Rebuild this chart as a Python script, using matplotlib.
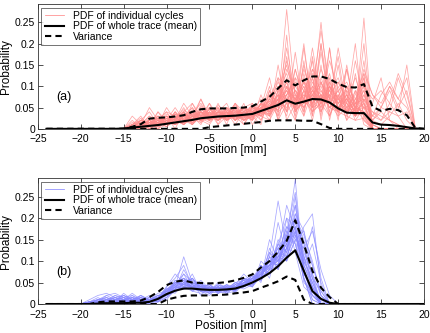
import numpy as np
import matplotlib
matplotlib.use("Agg")
import matplotlib.pyplot as plt
from matplotlib.ticker import FuncFormatter

plt.rcParams['font.family'] = ['Liberation Sans', 'DejaVu Sans']

# grid of positions [mm]
pos = np.arange(-24, 21)

# ---- panel (a) ----
mean_a = [0, 0, 0, 0, 0, 0, 0, 0, 0,
          .001, .003, .005, .007, .009, .012, .015, .018, .021, .025,
          .027, .029, .030, .031, .033, .035, .042, .049, .056, .067,
          .059, .064, .070, .069, .062, .048, .038, .037, .037, .015,
          .010, .009, .007, .004, .001, 0]
upper_a = [0, 0, 0, 0, 0, 0, 0, 0, 0,
           0, .005, .011, .024, .026, .027, .029, .032, .040, .046,
           .048, .048, .048, .049, .050, .053, .064, .075, .095, .114,
           .102, .114, .123, .123, .117, .106, .098, .097, .105, .052,
           .042, .047, .044, .032, .002, 0]
lower_a = [0, 0, 0, 0, 0, 0, 0, 0, 0,
           0, 0, 0, 0, 0, 0, 0, 0, 0, 0,
           .004, .006, .008, .010, .012, .014, .016, .019, .020, .020,
           .020, .019, .019, .011, .002, 0, 0, 0, 0, 0,
           0, 0, 0, 0, 0, 0]

# individual cycles, positions -15..19, values in 1e-3
start_a = -15
cycles_a = [
    [0,10,25,5,30,15,40,20,35,60, 25,40,30,45,20,40,70,35,90,150, 60,110,50,180,70,40,90,30,60,0, 0,0,0,0,0],
    [0,0,5,15,10,25,20,15,30,20, 35,25,50,30,40,55,45,80,60,120, 40,70,130,90,60,30,50,80,130,80, 60,100,50,90,0],
    [0,5,0,10,20,10,25,35,15,40, 30,20,35,55,30,25,40,60,110,70, 90,50,80,60,100,70,40,50,20,0, 0,0,0,0,0],
    [0,0,0,5,15,30,10,20,45,30, 20,40,25,30,50,35,60,40,70,90, 50,150,70,40,90,120,60,30,80,20, 10,30,60,20,0],
    [0,15,5,20,10,15,30,25,10,30, 45,30,20,40,25,60,30,55,45,80, 110,60,90,230,100,50,70,40,110,0, 0,0,0,0,0],
    [0,0,10,0,15,5,20,10,30,25, 15,35,20,30,40,30,45,70,120,95, 70,50,110,70,160,90,110,60,70,30, 50,40,120,60,0],
    [0,5,20,10,0,20,15,35,25,15, 40,20,45,35,30,50,40,35,60,280, 70,100,60,80,50,40,30,20,25,0, 0,0,0,0,0],
    [0,0,0,15,25,10,35,20,15,40, 20,30,40,20,35,25,50,65,40,60, 80,40,140,110,60,190,80,50,90,10, 0,0,0,0,0],
    [0,10,15,0,10,25,10,20,40,15, 30,45,25,35,20,40,55,30,80,70, 45,90,55,200,70,60,100,40,50,60, 120,20,10,0,0],
    [0,0,5,20,5,15,30,10,25,35, 50,25,35,20,40,30,35,90,50,100, 60,200,40,80,60,40,70,120,60,0, 0,0,0,0,0],
    [0,5,0,10,30,20,15,30,20,50, 30,20,40,30,25,45,30,45,70,190, 80,60,90,70,110,50,80,30,260,0, 0,0,0,0,0],
    [0,0,15,5,20,10,25,45,30,20, 35,50,30,45,35,20,60,50,100,60, 140,70,50,110,70,170,40,60,30,0, 0,0,0,0,0],
    [0,10,5,25,15,35,20,15,35,25, 20,30,45,25,50,40,30,60,45,70, 50,90,140,60,80,40,100,70,50,40, 30,20,10,0,0],
    [0,0,10,15,0,10,35,20,40,30, 25,40,20,50,30,35,50,40,90,130, 60,80,70,250,60,90,40,70,100,70, 90,60,30,40,0],
    [0,5,10,5,25,15,10,30,20,45, 35,20,35,40,45,30,40,65,50,90, 70,110,60,90,50,70,60,30,40,20, 50,90,40,150,0],
    [0,0,0,10,20,30,20,10,30,40, 25,35,50,30,20,50,45,30,70,110, 45,60,190,70,100,60,80,50,130,0, 0,0,0,0,0],
    [0,10,20,10,15,5,25,40,20,30, 45,30,25,35,50,25,60,40,60,80, 100,70,40,60,90,50,40,60,30,10, 0,0,0,0,0],
    [0,0,5,15,10,20,15,25,50,20, 30,55,40,25,30,55,40,70,55,140, 90,70,120,60,80,110,70,40,200,0, 0,0,0,0,0],
    [0,5,15,20,10,30,25,15,25,35, 20,40,30,40,35,45,35,50,80,60, 60,140,80,100,50,70,40,90,50,0, 0,0,0,0,0],
    [0,0,10,5,15,25,10,35,15,25, 40,30,45,20,45,30,50,45,60,100, 70,50,80,110,60,40,60,30,70,40, 20,60,130,80,0],
    [0,10,0,15,25,15,35,20,30,40, 35,25,30,50,25,40,45,80,65,90, 50,80,60,120,70,80,50,60,90,0, 0,0,0,0,0],
    [0,0,20,10,5,20,30,25,35,20, 50,35,25,30,40,50,35,55,70,80, 120,90,70,140,90,60,70,40,60,30, 80,110,70,50,0],
    [0,5,5,10,20,10,20,30,40,30, 25,40,35,45,30,35,60,50,100,70, 60,110,90,50,100,70,140,50,40,0, 0,0,0,0,0],
    [0,0,10,20,15,25,15,30,20,55, 30,45,20,35,50,40,30,75,55,160, 80,60,100,80,60,90,40,70,120,0, 0,0,0,0,0],
    [0,0,20,40,10,50,20,60,30,70, 20,50,10,60,30,20,80,30,150,40, 120,30,170,40,100,20,140,40,160,0, 0,0,0,0,0],
    [0,30,10,50,20,10,40,10,60,20, 40,10,50,20,60,10,40,100,20,60, 20,160,30,200,30,80,20,130,30,0, 0,0,0,0,0],
    [0,0,0,20,0,30,0,40,10,30, 60,10,30,50,10,40,20,60,30,220, 20,90,20,110,40,150,30,90,10,0, 0,0,0,0,0],
    [0,10,30,0,40,10,20,50,10,40, 20,60,20,30,10,50,30,20,90,40, 180,40,120,30,190,50,70,20,50,20, 40,20,0,0,0],
    [0,0,10,30,10,20,50,20,30,10, 50,20,40,10,40,20,60,40,120,20, 60,100,30,150,20,110,60,200,20,0, 0,0,0,0,0],
    [0,20,0,10,40,20,10,30,50,20, 10,40,30,60,20,30,10,90,20,100, 40,70,160,20,120,40,80,30,70,0, 0,0,0,0,0],
    [0,0,0,0,10,20,10,30,20,40, 30,50,20,40,30,50,40,30,60,50, 90,60,80,50,110,70,90,60,140,80, 50,100,70,120,0],
    [0,10,20,10,30,10,40,20,10,50, 20,40,60,20,30,40,50,120,30,80, 30,130,50,60,190,30,150,40,120,0, 0,0,0,0,0],
    [0,0,10,20,30,10,20,40,20,70, 30,20,40,30,50,20,40,50,80,40, 70,30,90,60,30,80,20,50,40,10, 0,0,0,0,0],
    [0,5,10,30,20,40,30,10,40,20, 60,30,40,20,50,60,20,70,40,170, 50,120,40,60,130,40,100,50,80,30, 20,40,30,0,0],
    [0,0,20,10,20,40,10,30,20,40, 20,30,50,40,20,30,60,40,70,30, 140,60,100,40,80,60,40,160,60,0, 0,0,0,0,0],
    [0,10,0,20,10,30,20,40,60,30, 40,20,30,60,40,30,50,20,60,110, 40,190,50,80,30,100,50,30,100,0, 0,0,0,0,0],
]

# ---- panel (b) ----
mean_b = [0, 0, 0, 0, 0, 0,
          .001, .002, .002, .002, .003, .003, .005, .012, .023, .031,
          .036, .036, .034, .033, .033, .034, .036, .042, .050, .060,
          .072, .088, .108, .125, .077, .030, .012, .003, 0, 0,
          0, 0, 0, 0, 0, 0, 0, 0, 0]
upper_b = [0, 0, 0, 0, 0, 0,
           .004, .006, .006, .006, .006, .008, .016, .028, .044, .052,
           .055, .050, .049, .048, .049, .051, .055, .061, .069, .085,
           .100, .122, .147, .195, .139, .077, .038, .016, 0, 0,
           0, 0, 0, 0, 0, 0, 0, 0, 0]
lower_b = [0, 0, 0, 0, 0, 0,
           0, 0, 0, 0, 0, 0, 0, 0, .010, .015,
           .019, .020, .020, .020, .021, .022, .025, .027, .030, .038,
           .045, .053, .064, .056, .010, 0, 0, 0, 0, 0,
           0, 0, 0, 0, 0, 0, 0, 0, 0]

# individual cycles, positions -20..10, values in 1e-3
start_b = -20
cycles_b = [
    [0,5,10,15,10,5,10,5,0,5, 15,30,50,40,35,30,25,30,40,45, 60,70,90,110,140,180,80,20,0,0, 0],
    [0,0,5,20,25,15,10,20,5,10, 30,45,60,35,30,40,30,35,35,50, 55,80,100,90,160,230,110,40,10,0, 0],
    [0,0,0,5,10,5,15,10,5,15, 25,50,40,30,25,35,40,30,45,40, 50,60,80,120,100,150,60,0,0,0, 0],
    [0,5,0,10,5,15,5,0,10,20, 20,40,110,50,40,30,35,40,30,45, 40,70,120,80,130,200,130,60,0,0, 0],
    [0,0,10,5,15,10,5,10,15,5, 35,30,45,60,40,35,30,25,40,60, 50,90,70,110,180,160,90,140,50,0, 0],
    [0,0,0,0,5,10,0,5,10,15, 10,35,55,40,50,30,45,35,50,55, 70,60,110,240,130,120,40,20,0,0, 0],
    [0,0,5,10,0,5,20,10,5,10, 25,40,35,60,30,40,25,45,35,40, 60,80,90,100,150,290,70,30,0,0, 0],
    [0,5,10,5,10,0,10,15,5,15, 20,55,40,45,35,25,40,30,40,55, 45,70,100,130,110,170,100,180,60,0, 0],
    [0,0,0,5,10,20,10,5,10,5, 30,25,50,35,40,45,30,40,35,50, 65,55,80,90,160,140,60,20,5,0, 0],
    [0,0,5,15,5,10,15,5,10,20, 15,45,70,50,45,30,40,30,45,40, 50,75,90,140,120,200,90,40,0,0, 0],
    [0,5,0,10,15,5,5,10,0,10, 25,35,45,40,55,35,30,40,30,60, 55,65,120,100,140,190,120,70,20,0, 0],
    [0,0,10,5,10,15,5,10,5,15, 20,30,40,50,35,25,30,35,40,35, 45,60,80,110,100,150,170,60,0,0, 0],
    [0,0,5,0,5,10,15,5,10,10, 35,50,60,30,40,35,45,30,35,45, 60,90,70,120,230,170,80,10,0,0, 0],
    [0,5,10,20,10,5,10,5,15,5, 25,40,35,45,30,40,35,45,30,50, 40,65,100,90,130,180,50,30,0,0, 0],
    [0,0,0,5,15,10,5,15,5,20, 30,45,55,35,30,25,40,35,50,45, 55,70,90,130,150,210,140,90,20,0, 0],
    [0,0,5,10,5,20,10,5,10,10, 20,35,80,45,35,45,30,40,35,40, 50,60,110,80,170,140,60,0,0,0, 0],
    [0,5,5,0,10,5,10,15,5,15, 30,55,45,40,50,30,35,30,45,55, 60,80,90,120,110,160,110,50,10,0, 0],
    [0,0,10,10,5,10,5,10,15,5, 15,40,50,60,35,35,40,25,40,50, 45,70,100,110,140,250,80,20,0,0, 0],
    [0,0,0,5,10,15,20,5,10,10, 25,30,40,35,40,45,30,35,35,45, 60,55,90,100,130,170,100,60,30,0, 0],
    [0,5,5,10,15,5,10,5,10,15, 35,45,60,45,30,30,45,40,30,60, 50,80,80,150,120,180,70,40,0,0, 0],
    [0,0,5,5,0,10,15,10,5,15, 20,50,45,40,45,35,30,45,40,50, 55,60,110,100,160,200,150,30,0,0, 0],
    [0,0,0,10,5,10,5,15,10,10, 30,35,50,55,40,35,35,30,35,40, 50,70,85,120,150,160,90,50,0,0, 0],
    [0,10,20,25,15,20,10,20,10,15, 40,60,90,40,30,50,25,35,40,55, 40,90,60,140,100,210,170,90,30,0, 0],
    [0,0,5,10,20,10,25,10,20,10, 20,30,40,70,30,20,40,30,50,40, 70,50,130,90,200,120,180,210,40,0, 0],
    [0,0,0,0,5,0,10,5,0,10, 40,70,50,30,45,25,40,25,30,60, 40,100,80,190,110,170,60,10,0,0, 0],
    [0,5,15,5,20,15,5,20,10,25, 30,40,60,50,20,40,35,45,25,50, 65,60,150,100,170,260,90,40,0,0, 0],
    [0,0,5,0,10,5,15,0,10,5, 25,45,35,50,40,30,50,35,45,70, 50,80,70,120,180,150,130,170,80,20, 0],
    [0,0,10,15,5,25,10,15,10,20, 20,35,70,35,45,40,25,40,35,45, 55,75,100,90,120,230,100,50,0,0, 0],
    [0,5,0,5,10,5,10,5,10,5, 30,50,45,60,35,30,40,35,40,50, 60,70,90,140,200,180,110,70,0,0, 0],
    [0,0,5,10,5,10,5,10,5,15, 35,40,55,40,35,40,30,40,35,50, 50,60,100,110,130,200,160,100,20,0, 0],
]


def draw_panel(ax, start, cycles, mean, upper, lower, color, tag):
    for i, c in enumerate(cycles):
        x = np.arange(start, start + len(c))
        ax.plot(x, np.array(c) / 1000.0, color=color, lw=0.55, alpha=0.75,
                label='PDF of individual cycles' if i == 0 else None)
    ax.plot(pos, mean, color='black', lw=1.5, label='PDF of whole trace (mean)')
    ax.plot(pos, upper, color='black', lw=1.5, ls=(0, (3, 2)), label='Variance')
    ax.plot(pos, lower, color='black', lw=1.5, ls=(0, (3, 2)))

    ax.set_xlim(-25, 20)
    ax.set_ylim(0, 0.293)
    ax.set_xticks(np.arange(-25, 21, 5))
    ax.set_yticks([0, 0.05, 0.1, 0.15, 0.2, 0.25])
    ax.yaxis.set_major_formatter(FuncFormatter(lambda v, p: '%g' % round(v, 2)))
    ax.tick_params(direction='in', top=True, right=True, length=3.5,
                   width=0.6, labelsize=7.5, color='#333333')
    ax.tick_params(axis='x', pad=4)
    ax.tick_params(axis='y', pad=2)
    for s in ax.spines.values():
        s.set_linewidth(0.6)
        s.set_color('#333333')
    ax.set_xlabel('Position [mm]', fontsize=8.5, labelpad=0)
    ax.set_ylabel('Probability', fontsize=8.5, labelpad=2)
    ax.text(-22.9, 0.067, tag, fontsize=9)
    leg = ax.legend(loc='upper left', fontsize=7.5, frameon=True, fancybox=False,
                    borderaxespad=0.35, handlelength=1.9, borderpad=0.3,
                    labelspacing=0.05, handletextpad=0.8)
    leg.get_frame().set_edgecolor('#333333')
    leg.get_frame().set_linewidth(0.6)
    for h in leg.get_lines()[:1]:
        h.set_alpha(1)


fig = plt.figure(figsize=(4.3, 3.33), dpi=100)
ax_a = fig.add_axes([0.088, 0.613, 0.898, 0.375])
ax_b = fig.add_axes([0.088, 0.087, 0.898, 0.378])

draw_panel(ax_a, start_a, cycles_a, mean_a, upper_a, lower_a, '#ff8a8a', '(a)')
draw_panel(ax_b, start_b, cycles_b, mean_b, upper_b, lower_b, '#8a8aff', '(b)')

fig.savefig('out.png', dpi=100)
